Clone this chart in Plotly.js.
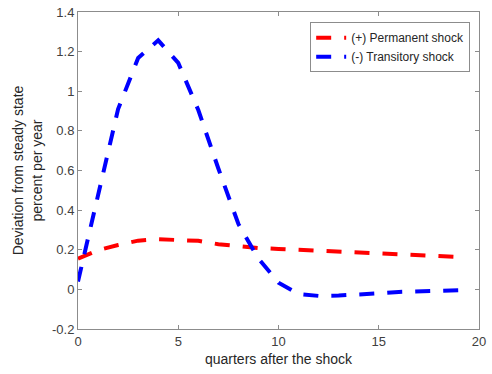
<!DOCTYPE html>
<html>
<head>
<meta charset="utf-8">
<script src="https://cdn.plot.ly/plotly-3.0.1.min.js"></script>
<style>html,body{margin:0;padding:0;background:#fff;}#chart{width:492px;height:374px;}</style>
</head>
<body>
<div id="chart"></div>
<script>
const quarters = [0,1,2,3,4,5,6,7,8,9,10,11,12,13,14,15,16,17,18,19];
const permanent = [0.155,0.198,0.224,0.246,0.253,0.251,0.245,0.228,0.216,0.209,0.204,0.199,0.196,0.191,0.186,0.180,0.177,0.174,0.169,0.164];
const transitory = [0.04,0.48,0.91,1.168,1.257,1.143,0.905,0.61,0.33,0.155,0.034,-0.023,-0.033,-0.031,-0.023,-0.02,-0.013,-0.01,-0.007,-0.004];
const seriesNames = ["(+) Permanent shock","(-) Transitory shock"];
const xTicks = [0,5,10,15,20];
const yTicks = [-0.2,0,0.2,0.4,0.6,0.8,1,1.2,1.4];
const yTickText = ["-0.2","0","0.2","0.4","0.6","0.8","1","1.2","1.4"];

const fam = "Liberation Sans, Arial, sans-serif";
const font = {family:fam, size:13, color:"#404040"};
const titleFont = {family:fam, size:14, color:"#262626"};
const traces = [
  {x:quarters, y:permanent, name:seriesNames[0], mode:"lines", line:{color:"#ff0000", width:4, dash:"15px,13px"}},
  {x:quarters, y:transitory, name:seriesNames[1], mode:"lines", line:{color:"#0000ff", width:4, dash:"15px,13px"}}
];
const axisCommon = {showgrid:false, zeroline:false, showline:true, linecolor:"#8c8c8c", linewidth:1,
  mirror:"ticks", ticks:"inside", ticklen:4, tickcolor:"#8c8c8c", tickfont:font};
const layout = {
  width:492, height:374,
  margin:{l:78, r:13, t:12, b:45},
  paper_bgcolor:"#fff", plot_bgcolor:"#fff",
  font:font,
  showlegend:true,
  legend:{x:0.978, y:0.968, xanchor:"right", yanchor:"top", bgcolor:"#fff", bordercolor:"#8c8c8c", borderwidth:1,
    font:{family:fam, size:12, color:"#262626"}, tracegroupgap:0, itemwidth:30},
  xaxis:Object.assign({}, axisCommon, {range:[0,20], tickvals:xTicks, ticktext:xTicks.map(String),
    title:{text:"quarters after the shock", font:titleFont, standoff:6}}),
  yaxis:Object.assign({}, axisCommon, {range:[-0.2,1.4], tickvals:yTicks, ticktext:yTickText,
    title:{text:"Deviation from steady state<br>percent per year", font:titleFont, standoff:6}})
};
Plotly.newPlot("chart", traces, layout, {displayModeBar:false, staticPlot:true});
</script>
</body>
</html>
